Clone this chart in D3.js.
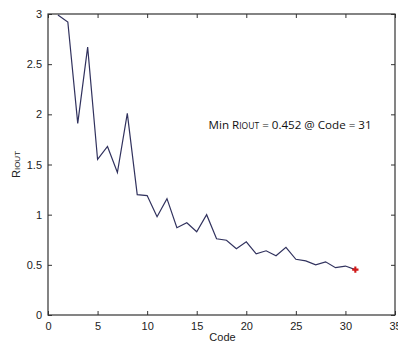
<!DOCTYPE html>
<html>
<head>
<meta charset="utf-8">
<script src="https://cdn.jsdelivr.net/npm/d3@7"></script>
<style>
  body { margin: 0; background: #fff; }
  svg { display: block; }
  .tick text { font-family: "Liberation Sans", Arial, sans-serif; font-size: 11px; fill: #222; }
</style>
</head>
<body>
<div id="chart"></div>
<script>
const codes = d3.range(1, 32);
const rIout = [2.99, 2.92, 1.91, 2.67, 1.55, 1.68, 1.42, 2.01, 1.20, 1.19,
  0.98, 1.16, 0.87, 0.92, 0.83, 1.00, 0.76, 0.745, 0.66, 0.73,
  0.61, 0.64, 0.59, 0.675, 0.555, 0.54, 0.50, 0.53, 0.472, 0.488, 0.452];
const xTicks = [0, 5, 10, 15, 20, 25, 30, 35];
const yTicks = [0, 0.5, 1, 1.5, 2, 2.5, 3];
const minCode = 31;
const minValue = 0.452;

const width = 398, height = 349;
const margin = { top: 14, right: 3, bottom: 34, left: 48 };
const w = width - margin.left - margin.right;
const h = height - margin.top - margin.bottom;

const svg = d3.select('#chart').append('svg')
  .attr('width', width)
  .attr('height', height);

const g = svg.append('g')
  .attr('transform', `translate(${margin.left},${margin.top})`);

const x = d3.scaleLinear().domain([0, 35]).range([0, w]);
const y = d3.scaleLinear().domain([0, 3]).range([h, 0]);

// axes, matlab style ticks pointing inward
g.append('g')
  .attr('transform', `translate(0,${h})`)
  .call(d3.axisBottom(x).tickValues(xTicks).tickSize(-4).tickPadding(7))
  .call(a => a.select('.domain').remove());
g.append('g')
  .call(d3.axisLeft(y).tickValues(yTicks).tickSize(-4).tickPadding(6).tickFormat(d3.format('')))
  .call(a => a.select('.domain').remove());
g.append('g')
  .call(d3.axisTop(x).tickValues(xTicks).tickSize(-4).tickFormat(''))
  .call(a => a.select('.domain').remove());
g.append('g')
  .attr('transform', `translate(${w},0)`)
  .call(d3.axisRight(y).tickValues(yTicks).tickSize(-4).tickFormat(''))
  .call(a => a.select('.domain').remove());
g.selectAll('.tick line').attr('stroke', '#333');

// frame
g.append('rect')
  .attr('width', w).attr('height', h)
  .attr('fill', 'none')
  .attr('stroke', '#333')
  .attr('stroke-width', 1.2);

const data = codes.map((c, i) => ({ code: c, value: rIout[i] }));

const line = d3.line()
  .x(d => x(d.code))
  .y(d => y(d.value));

g.append('path')
  .datum(data)
  .attr('d', line)
  .attr('fill', 'none')
  .attr('stroke', '#31325e')
  .attr('stroke-width', 1.2);

// minimum marker
g.append('path')
  .attr('transform', `translate(${x(minCode)},${y(minValue)})`)
  .attr('d', d3.symbol(d3.symbolCross, 22))
  .attr('fill', '#d01818');

// annotation
const ann = g.append('text')
  .attr('x', x(16.2))
  .attr('y', y(1.85))
  .attr('font-family', '"Open Sans", "Liberation Sans", sans-serif')
  .attr('font-size', 11.6)
  .attr('fill', '#111');
ann.append('tspan').text('Min R');
ann.append('tspan').attr('font-size', 8.5).text('IOUT');
ann.append('tspan').text(' = 0.452 @ Code = 31');

// axis labels
svg.append('text')
  .attr('x', margin.left + x(17.6))
  .attr('y', 341)
  .attr('text-anchor', 'middle')
  .attr('font-family', '"Liberation Sans", Arial, sans-serif')
  .attr('font-size', 11)
  .attr('fill', '#222')
  .text('Code');

const yl = svg.append('text')
  .attr('transform', `translate(20,${margin.top + y(1.5)}) rotate(-90)`)
  .attr('text-anchor', 'middle')
  .attr('font-family', '"Liberation Sans", Arial, sans-serif')
  .attr('font-size', 11)
  .attr('fill', '#222');
yl.append('tspan').text('R');
yl.append('tspan').attr('font-size', 8).text('IOUT');
</script>
</body>
</html>
